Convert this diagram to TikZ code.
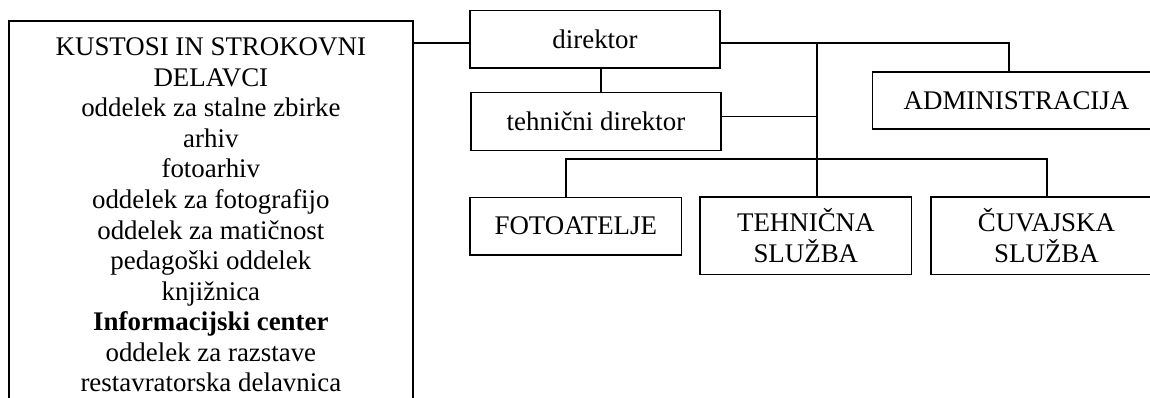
\documentclass[tikz,border=0pt]{standalone}
\usepackage{fontspec}
\setmainfont{Liberation Serif}
\begin{document}
\begin{tikzpicture}[x=1pt,y=-1pt,
  box/.style={draw,line width=1.6pt,rectangle,inner sep=0pt,align=center,
    font=\fontsize{26.9}{31}\selectfont},
  conn/.style={line width=1.6pt},
  txt/.style={inner sep=0pt,anchor=base,font=\fontsize{26.9}{30.5}\selectfont}]
\useasboundingbox (0,0) rectangle (1150,398);
\fill[white] (0,0) rectangle (1150,398);
\clip (0,0) rectangle (1150,398);
% boxes
\node[box,minimum width=403.7pt,minimum height=399pt] (kus) at (210.85,220.5) {};
\node[box,minimum width=250pt,minimum height=57.6pt] (dir) at (595,39.5) {direktor};
\node[box,minimum width=250pt,minimum height=58pt] (tdir) at (596,121.7) {tehnični direktor};
\node[box,minimum width=288pt,minimum height=57pt] (adm) at (1016.5,100.8) {ADMINISTRACIJA};
\node[box,minimum width=211.7pt,minimum height=57.7pt] (foto) at (575.8,226.2) {FOTOATELJE};
\node[box,minimum width=211.7pt,minimum height=77.3pt] (teh) at (805.8,235.7) {TEHNIČNA\\SLUŽBA};
\node[box,minimum width=231pt,minimum height=77.3pt] (cuv) at (1046.5,235.7) {ČUVAJSKA\\SLUŽBA};
% text of left box
\foreach \t [count=\i from 0] in {KUSTOSI IN STROKOVNI,DELAVCI,oddelek za stalne zbirke,arhiv,fotoarhiv,oddelek za fotografijo,oddelek za matičnost,pedagoški oddelek,knjižnica,{\bfseries Informacijski center},oddelek za razstave,restavratorska delavnica}
  \node[txt] (l\i) at (210.85,56+30.5*\i) {\t};
% junction coordinates
\coordinate (j0) at (440,43.3);
\coordinate (jt) at (601,80);
\coordinate (jtr) at (817,43.3);
\coordinate (jadm) at (1009,43.3);
\coordinate (jtd) at (817,116.7);
\coordinate (jbl) at (566,159.3);
\coordinate (jbr) at (1046.7,159.3);
% connectors
\draw[conn] (kus.east |- j0) -- (dir.west |- j0);
\draw[conn] (dir.south -| jt) -- (tdir.north -| jt);
\draw[conn] (dir.east |- jadm) -- (jadm) -- (adm.north -| jadm);
\draw[conn] (jtr) -- (teh.north -| jtr);
\draw[conn] (tdir.east |- jtd) -- (jtd);
\draw[conn] (foto.north -| jbl) -- (jbl) -- (jbr) -- (cuv.north -| jbr);
\end{tikzpicture}
\end{document}
